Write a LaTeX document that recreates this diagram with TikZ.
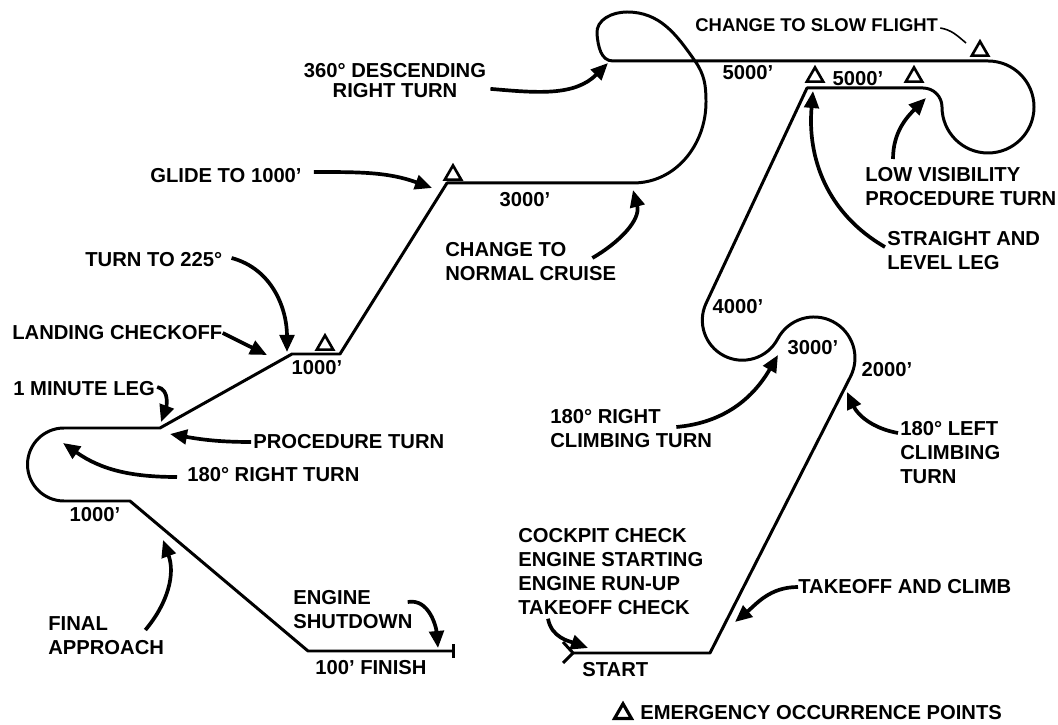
\documentclass[tikz,border=0pt]{standalone}
\usepackage{fontspec}
\setmainfont{Liberation Sans}
\usetikzlibrary{arrows.meta, shapes.geometric}

\begin{document}
\begin{tikzpicture}[
  x=0.2mm, y=0.2mm,
  font=\bfseries\fontsize{11.5}{13.6}\selectfont,
  flight/.style={line width=1.7pt, line join=round},
  pointer/.style={line width=2.1pt, -{Triangle[length=3.4mm, width=2.9mm]}},
  leader/.style={line width=0.9pt},
  lbl/.style={inner sep=0pt, align=left},
  emer/.style={draw, line width=1.5pt, regular polygon, regular polygon sides=3, minimum size=3.8mm, inner sep=0pt, anchor=south},
]
\useasboundingbox[fill=white] (0,0) rectangle (1058,724);

\coordinate (start) at (573,71);
\coordinate (finish) at (455,73);

\draw[flight, -{Bar[width=2.8mm]}] (start) -- (710,71) -- (850.5,347.4)
  arc[start angle=-27, end angle=152.2, radius=41]
  arc[start angle=-27.8, end angle=-205, radius=40]
  -- (807,636) -- (923,636)
  arc[start angle=90, end angle=0, radius=19]
  arc[start angle=180, end angle=450, radius=46]
  -- (613,663)
  to[out=180, in=-85] (597,690)
  to[out=95, in=180] (627,712)
  to[out=0, in=125] (695,663)
  to[out=-55, in=90] (706,622)
  to[out=-90, in=0] (633,541)
  -- (447,541) -- (340,370) -- (292,370) -- (160,296) -- (64,296)
  arc[start angle=90, end angle=270, radius=36.5]
  -- (130,223) -- (308,73) -- (finish);
\draw[flight] ([shift={(-10,11)}]start) -- (start) -- ([shift={(-10,-10)}]start);

\node[emer] (e1) at (453,543) {};
\node[emer] (e2) at (325,373) {};
\node[emer] (e3) at (815,641) {};
\node[emer] (e4) at (914,641) {};
\node[emer] (e5) at (980,667) {};

\node[lbl] (a3000) at (525,524) {3000'};
\node[lbl] (a5000) at (748,651) {5000'};
\node[lbl] (b5000) at (858,645) {5000'};
\node[lbl] (a1000) at (317,356) {1000'};
\node[lbl] (b1000) at (95,209) {1000'};
\node[lbl] (a4000) at (738,417) {4000'};
\node[lbl] (b3000) at (813,376) {3000'};
\node[lbl] (a2000) at (887,354) {2000'};
\node[lbl, anchor=west] (fin) at (315,56) {100' FINISH};
\node[lbl, anchor=west] (startl) at (582,54) {START};

\node[lbl, anchor=north, align=center] (desc) at (395,661) {360° DESCENDING\\[-2.3pt]RIGHT TURN};
\node[lbl, anchor=west] (glide) at (150,548) {GLIDE TO 1000'};
\node[lbl, anchor=north west] (cruise) at (445,482) {CHANGE TO\\NORMAL CRUISE};
\node[lbl, anchor=west, font=\bfseries\fontsize{10.5}{12}\selectfont] (slow) at (695,699) {CHANGE TO SLOW FLIGHT};
\node[lbl, anchor=north west] (lowvis) at (865,557) {LOW VISIBILITY\\PROCEDURE TURN};
\node[lbl, anchor=north west] (level) at (887,493) {STRAIGHT AND\\LEVEL LEG};
\node[lbl, anchor=west] (turn) at (85,464) {TURN TO 225°};
\node[lbl, anchor=west] (landing) at (12,391) {LANDING CHECKOFF};
\node[lbl, anchor=west] (minute) at (13,335) {1 MINUTE LEG};
\node[lbl, anchor=west] (proc) at (253,282) {PROCEDURE TURN};
\node[lbl, anchor=west] (rturn) at (187,249) {180° RIGHT TURN};
\node[lbl, anchor=north west] (final) at (48,108) {FINAL\\APPROACH};
\node[lbl, anchor=north west] (shut) at (293,134) {ENGINE\\SHUTDOWN};
\node[lbl, anchor=north west] (rclimb) at (550,315) {180° RIGHT\\CLIMBING TURN};
\node[lbl, anchor=north west] (lclimb) at (900,303) {180° LEFT\\CLIMBING\\TURN};
\node[lbl, anchor=north west] (cockpit) at (518,196) {COCKPIT CHECK\\ENGINE STARTING\\ENGINE RUN-UP\\TAKEOFF CHECK};
\node[lbl, anchor=west] (takeoff) at (798,137) {TAKEOFF AND CLIMB};

\coordinate (desc-tip) at (608,661);
\coordinate (glide-tip) at (432,536);
\coordinate (cruise-tip) at (633,534);
\coordinate (slow-tip) at (966,681);
\coordinate (lowvis-tip) at (926,626);
\coordinate (level-tip) at (813,633);
\coordinate (turn-tip) at (287,372);
\coordinate (landing-tip) at (267,369);
\coordinate (minute-tip) at (161,302);
\coordinate (proc-tip) at (170,290);
\coordinate (rturn-tip) at (63,281);
\coordinate (final-tip) at (163,184);
\coordinate (shut-tip) at (438,76);
\coordinate (rclimb-tip) at (778,369);
\coordinate (lclimb-tip) at (847,332);
\coordinate (cockpit-tip) at (588,76);
\coordinate (takeoff-tip) at (735,102);

\draw[pointer] ([shift={(4,9)}]desc.south east) to[out=-5, in=-135] (desc-tip);
\draw[pointer] ([shift={(12,4)}]glide.east) to[out=0, in=160] (glide-tip);
\draw[pointer] ([shift={(-24,-16)}]cruise.north east) to[out=30, in=-75] (cruise-tip);
\draw[leader] ([shift={(2,-3)}]slow.east) to[out=-10, in=140] (slow-tip);
\draw[pointer] ([shift={(28,8)}]lowvis.north west) to[out=90, in=-135] (lowvis-tip);
\draw[pointer] ([shift={(-2,-16)}]level.north west) to[out=150, in=-95] (level-tip);
\draw[pointer] ([shift={(9,2)}]turn.east) to[out=-15, in=90] (turn-tip);
\draw[pointer] (landing.east) -- (landing-tip);
\draw[pointer] ([shift={(2,2)}]minute.east) to[out=-10, in=70] (minute-tip);
\draw[pointer] ([shift={(-2,0)}]proc.west) to[out=180, in=-10] (proc-tip);
\draw[pointer] ([shift={(-10,-2)}]rturn.west) to[out=180, in=-35] (rturn-tip);
\draw[pointer] ([shift={(-19,-14)}]final.north east) to[out=50, in=-70] (final-tip);
\draw[pointer] ([shift={(-5,-12)}]shut.north east) to[out=10, in=95] (shut-tip);
\draw[pointer] ([shift={(-36,-18)}]rclimb.north east) to[out=5, in=-120] (rclimb-tip);
\draw[pointer] ([shift={(-2,-12)}]lclimb.north west) to[out=170, in=-65] (lclimb-tip);
\draw[pointer] ([shift={(30,-4)}]cockpit.south west) to[out=-80, in=160] (cockpit-tip);
\draw[pointer] (takeoff.west) to[out=180, in=40] (takeoff-tip);

\node[emer, minimum size=3.9mm, line width=1.8pt] (key) at (623,4) {};
\node[lbl, anchor=west] (keytext) at (640,11) {EMERGENCY OCCURRENCE POINTS};
\end{tikzpicture}
\end{document}
